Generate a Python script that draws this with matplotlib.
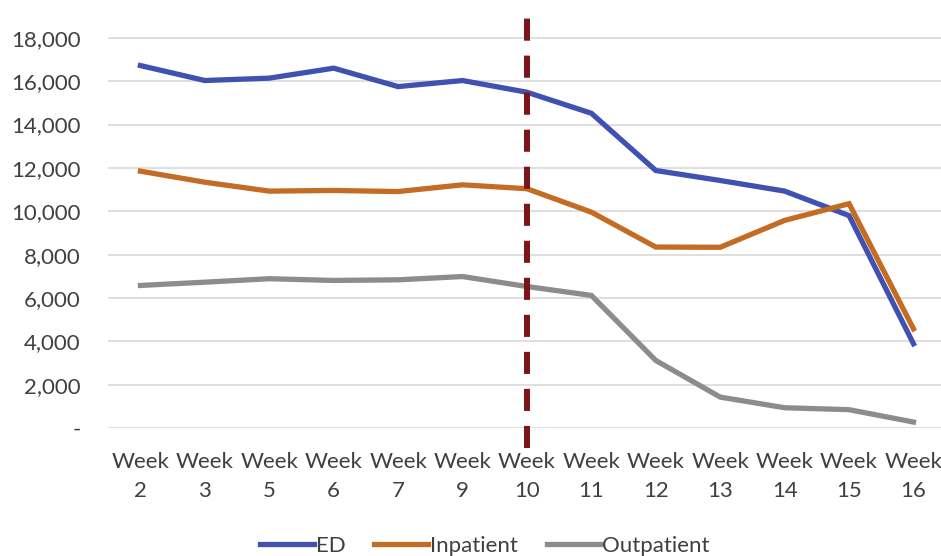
import matplotlib
matplotlib.use('Agg')
import matplotlib.pyplot as plt
from matplotlib.ticker import FuncFormatter

weeks = ['2', '3', '5', '6', '7', '9', '10', '11', '12', '13', '14', '15', '16']
ed = [16720, 16030, 16140, 16600, 15750, 16030, 15490, 14520, 11880, 11420, 10930, 9800, 3890]
inpatient = [11850, 11340, 10930, 10960, 10910, 11220, 11040, 9960, 8350, 8340, 9580, 10350, 4580]
outpatient = [6580, 6730, 6890, 6810, 6840, 6990, 6530, 6120, 3120, 1430, 940, 850, 280]

labels = ['Week\n' + w for w in weeks]
x = list(range(len(weeks)))

plt.rcParams['font.family'] = ['Lato', 'DejaVu Sans']

fig = plt.figure(figsize=(9.41, 5.56), dpi=100)
ax = fig.add_axes([0.115, 0.23, 0.89, 0.741])

ax.plot(x, ed, color='#4052b0', lw=3.8, label='ED', solid_joinstyle='miter')
ax.plot(x, inpatient, color='#c46b24', lw=3.8, label='Inpatient', solid_joinstyle='miter')
ax.plot(x, outpatient, color='#8c8c8c', lw=3.8, label='Outpatient', solid_joinstyle='miter')

# marker for week 10
ax.vlines(weeks.index('10'), -900, 19200, colors='#7c1418', lw=4.3,
          linestyles=(0, (3.7, 2.5)), clip_on=False, zorder=5)

ax.set_xlim(-0.5, len(weeks) - 0.5)
ax.set_ylim(0, 19000)
ax.set_yticks(range(0, 18001, 2000))
ax.yaxis.set_major_formatter(FuncFormatter(lambda v, p: '-' if v == 0 else f'{v:,.0f}'))
ax.set_xticks(x)
ax.set_xticklabels(labels, linespacing=1.6)
ax.tick_params(length=0, labelsize=16, colors='#404040', pad=17)
ax.tick_params(axis='y', pad=20)
ax.grid(axis='y', color='#d9d9d9', lw=1.2)
ax.set_axisbelow(True)
for s in ax.spines.values():
    s.set_visible(False)

ax.legend(loc='center', bbox_to_anchor=(0.45, -0.285), ncol=3, frameon=False,
          fontsize=16, handlelength=2.4, handletextpad=0.1, columnspacing=1.3,
          labelcolor='#404040')

fig.savefig('out.png', dpi=100)
